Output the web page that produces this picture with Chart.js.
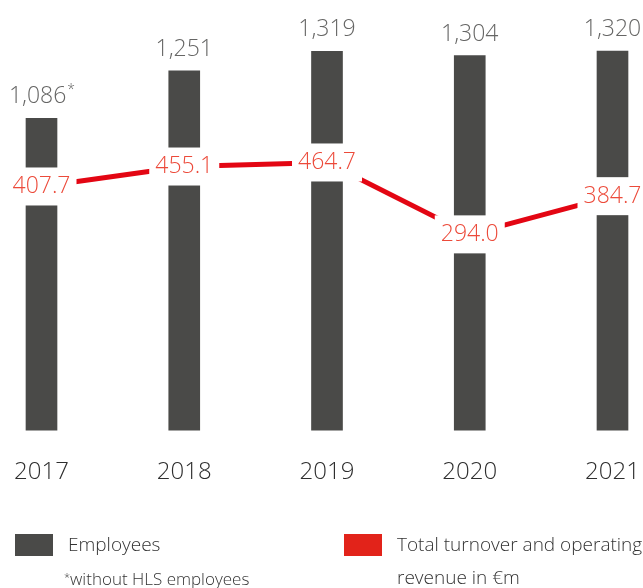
<!DOCTYPE html>
<html>
<head>
<meta charset="utf-8">
<script src="https://cdn.jsdelivr.net/npm/chart.js@4/dist/chart.umd.min.js"></script>
<style>
  html, body { margin: 0; padding: 0; background: #fff; }
  #wrap { position: relative; width: 643px; height: 588px; }
  #chart { position: absolute; left: 0; top: 0; }
  .lg { position: absolute; font-family: "Open Sans", sans-serif; font-weight: 300; color: #333; white-space: nowrap; line-height: 1; }
  .sw { position: absolute; width: 38px; height: 22px; }
</style>
</head>
<body>
<div id="wrap">
  <canvas id="chart" width="643" height="588"></canvas>
  <div class="sw" style="left:15px; top:534px; background:#4a4a48;"></div>
  <div class="lg" style="left:68px; top:535px; font-size:19px;">Employees</div>
  <div class="lg" style="left:64px; top:570px; font-size:17px;"><span style="font-size:11px; vertical-align:4px;">*</span>without HLS employees</div>
  <div class="sw" style="left:344px; top:534px; background:#e2231a;"></div>
  <div class="lg" style="left:397px; top:535px; font-size:19px;">Total turnover and operating</div>
  <div class="lg" style="left:397px; top:568px; font-size:19px;">revenue in €m</div>
</div>
<script>
const years = ["2017", "2018", "2019", "2020", "2021"];
const employees = [1086, 1251, 1319, 1304, 1320];
const turnover = [407.7, 455.1, 464.7, 294.0, 384.7];
const footnoteMarks = ["*", "", "", "", ""];

const FONT = '"Open Sans", sans-serif';

// value labels: grey above the bars, red on the line with a white box behind
const valueLabels = {
  id: "valueLabels",
  afterDatasetsDraw(chart) {
    const ctx = chart.ctx;
    const bars = chart.getDatasetMeta(0).data;
    const points = chart.getDatasetMeta(1).data;
    const setFont = (size) => { ctx.font = "300 " + size + "px " + FONT; };
    ctx.save();
    ctx.textBaseline = "alphabetic";
    bars.forEach((bar, i) => {
      const txt = employees[i].toLocaleString("en-US");
      setFont(23);
      const w = ctx.measureText(txt).width;
      setFont(14);
      const sw = footnoteMarks[i] ? ctx.measureText(footnoteMarks[i]).width : 0;
      const left = bar.x - (w + sw) / 2;
      ctx.fillStyle = "#666665";
      ctx.textAlign = "left";
      setFont(23);
      ctx.fillText(txt, left, bar.y - 15);
      if (footnoteMarks[i]) {
        setFont(14);
        ctx.fillText(footnoteMarks[i], left + w + 1, bar.y - 24);
      }
    });
    setFont(23);
    ctx.textAlign = "center";
    ctx.textBaseline = "middle";
    points.forEach((pt, i) => {
      const txt = turnover[i].toFixed(1);
      const w = ctx.measureText(txt).width;
      ctx.fillStyle = "#ffffff";
      ctx.fillRect(pt.x - w / 2 - 6, pt.y - 19, w + 12, 38);
      ctx.fillStyle = "#ec4a3a";
      ctx.fillText(txt, pt.x, pt.y);
    });
    ctx.restore();
  }
};

new Chart(document.getElementById("chart"), {
  type: "bar",
  data: {
    labels: years,
    datasets: [
      {
        label: "Employees",
        data: employees,
        backgroundColor: "#4a4a48",
        barThickness: 31,
        yAxisID: "y",
        clip: false,
        order: 2
      },
      {
        type: "line",
        label: "Total turnover and operating revenue in €m",
        data: turnover,
        borderColor: "#e30613",
        borderWidth: 5,
        pointRadius: 0,
        tension: 0,
        yAxisID: "y1",
        clip: false,
        order: 1
      }
    ]
  },
  options: {
    responsive: false,
    animation: false,
    layout: { padding: { left: 41.5, right: 30.5, top: 20, bottom: 73 } },
    plugins: { legend: { display: false }, tooltip: { enabled: false } },
    scales: {
      x: {
        offset: false,
        grid: { display: false, drawTicks: false },
        border: { display: false },
        ticks: { color: "#2e2e2e", font: { family: FONT, size: 24, weight: "300" }, padding: 28, maxRotation: 0 },
        afterFit(scale) { scale.paddingLeft = 0; scale.paddingRight = 0; }
      },
      y: { display: false, min: 0, max: 1428 },
      y1: { display: false, min: -171, max: 803 }
    }
  },
  plugins: [valueLabels]
});
</script>
</body>
</html>
